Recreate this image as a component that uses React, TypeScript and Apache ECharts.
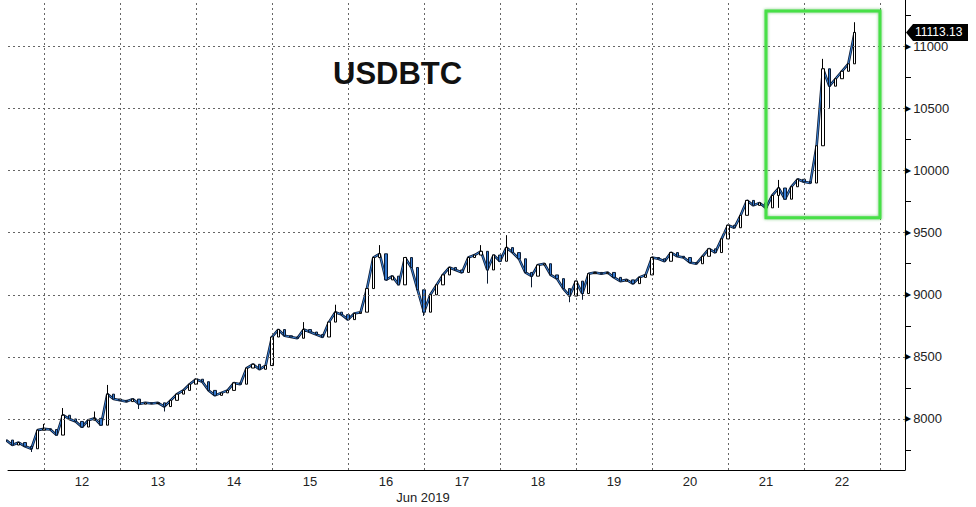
import React, { useEffect, useRef } from "react";
import * as echarts from "echarts";

// ---- data (hours counted from Jun 11 2019 00:00, 2-hour bars) ----
const START_HOUR = 12;
const BAR_HOURS = 2;
const firstOpen = 7960;
const closes = [
  // Jun 11 (from 12:00)
  7830, 7790, 7810, 7780, 7760, 7910,
  // Jun 12
  7920, 7915, 7870, 8030, 8000, 7980, 7935, 7990, 8005, 7950, 8200, 8160,
  // Jun 13
  8150, 8140, 8160, 8120, 8130, 8125, 8130, 8100, 8150, 8200, 8230, 8280,
  // Jun 14
  8320, 8300, 8230, 8190, 8210, 8230, 8290, 8280, 8410, 8440, 8400, 8430,
  // Jun 15
  8660, 8720, 8670, 8660, 8650, 8720, 8700, 8680, 8660, 8780, 8860, 8840,
  // Jun 16
  8800, 8850, 8860, 9050, 9300, 9330, 9120, 9150, 9080, 9300, 9220, 9040,
  // Jun 17
  8860, 9000, 9080, 9160, 9220, 9200, 9180, 9300, 9320, 9350, 9200, 9320,
  // Jun 18
  9270, 9380, 9340, 9290, 9180, 9150, 9240, 9250, 9160, 9130, 9050, 8990,
  // Jun 19
  9110, 9010, 9170, 9180, 9170, 9180, 9140, 9110, 9120, 9090, 9140, 9160,
  // Jun 20
  9300, 9290, 9270, 9340, 9310, 9300, 9260, 9250, 9310, 9370, 9340, 9450,
  // Jun 21
  9560, 9540, 9640, 9760, 9720, 9740, 9700, 9800, 9860, 9770, 9870, 9930,
  // Jun 22
  9910, 9900, 10200, 10820, 10680, 10740, 10800, 10860, 11113.13,
];
// wick extremes: [hour, price]
const wickHighs: [number, number][] = [
  [24, 7960], [30, 8088], [40, 8060], [44, 8274], [106, 8780], [116, 8920],
  [130, 9400], [162, 9400], [170, 9480], [256, 9925], [270, 10900], [280, 11195],
];
const wickLows: [number, number][] = [
  [20, 7734], [54, 8080], [62, 8060], [144, 8830], [164, 9090], [178, 9060],
  [190, 8940], [194, 8960], [256, 9700], [272, 10505],
];
const lastPrice = 11113.13;

const xLabelDays = [12, 13, 14, 15, 16, 17, 18, 19, 20, 21, 22];
const dayBoundaries = [12, 13, 14, 15, 16, 17, 18, 19, 20, 21, 22, 23];
const yLabels = [8000, 8500, 9000, 9500, 10000, 10500, 11000];
const yMinorTicks = [7750, 8250, 8750, 9250, 9750, 10250, 10750, 11250];

const X_MIN = 12.63;
const X_MAX = 295.9;
const Y_MIN = 7589;
const Y_MAX = 11374;

const highlightBox = { fromHour: 252, toHour: 288, low: 9620, high: 11285 };

const FONT = "Liberation Sans";

export default function App() {
  const ref = useRef<HTMLDivElement>(null);

  useEffect(() => {
    const chart = echarts.init(ref.current!, null, { renderer: "svg" });
    const hiMap = new Map(wickHighs);
    const loMap = new Map(wickLows);
    const candles = closes.map((c, i) => {
      const h = START_HOUR + i * BAR_HOURS;
      const o = i === 0 ? firstOpen : closes[i - 1];
      const hi = Math.max(o, c, hiMap.has(h) ? (hiMap.get(h) as number) : -Infinity);
      const lo = Math.min(o, c, loMap.has(h) ? (loMap.get(h) as number) : Infinity);
      return [h, o, c, lo, hi];
    });
    const linePts = candles.map((d) => [d[0], d[2]]);

    const option: any = {
      animation: false,
      textStyle: { fontFamily: FONT },
      grid: { left: 8, right: 71, top: 0, bottom: 37, containLabel: false },
      xAxis: {
        type: "value",
        min: X_MIN,
        max: X_MAX,
        axisLine: { show: true, onZero: false, lineStyle: { color: "#000", width: 1 } },
        axisTick: { show: false },
        splitLine: { show: false },
        axisLabel: {
          customValues: xLabelDays.map((d) => (d - 11) * 24 + 12),
          formatter: (v: number) => String(11 + Math.floor(v / 24)),
          color: "#222",
          fontFamily: FONT,
          fontSize: 13,
          margin: 5,
        },
      },
      yAxis: {
        type: "value",
        position: "right",
        min: Y_MIN,
        max: Y_MAX,
        axisLine: { show: true, lineStyle: { color: "#000", width: 1 } },
        axisTick: {
          show: true,
          customValues: yMinorTicks,
          length: 6,
          lineStyle: { color: "#000", width: 1 },
        },
        splitLine: { show: false },
        axisLabel: {
          customValues: yLabels,
          margin: 0,
          formatter: (v: number) => `{t|\u25B6}{v|${v}}`,
          rich: {
            t: { fontSize: 8, color: "#000", padding: [0, 2, 0, 0], fontFamily: "DejaVu Sans" },
            v: { fontSize: 13, color: "#222", fontFamily: FONT },
          },
        },
      },
      series: [
        {
          type: "line",
          data: [],
          silent: true,
          z: 1,
          markLine: {
            silent: true,
            symbol: "none",
            animation: false,
            label: { show: false },
            lineStyle: { type: [2, 3], color: "#666", width: 1 },
            data: [
              ...dayBoundaries.map((d) => ({ xAxis: (d - 11) * 24 })),
              ...yLabels.map((v) => ({ yAxis: v })),
            ],
          },
        },
        {
          type: "line",
          data: linePts,
          symbol: "none",
          z: 2,
          silent: true,
          lineStyle: { color: "#0f1e38", width: 2.6 },
        },
        {
          type: "line",
          data: linePts,
          symbol: "none",
          z: 3,
          silent: true,
          lineStyle: { color: "#3a82d6", width: 1 },
        },
        {
          type: "candlestick",
          data: candles,
          encode: { x: 0, y: [1, 2, 3, 4] },
          barWidth: 3,
          z: 4,
          itemStyle: {
            color: "#ffffff",
            color0: "#3479cf",
            borderColor: "#000000",
            borderColor0: "#0b1a30",
            borderWidth: 1,
          },
        },
      ],
    };
    chart.setOption(option);

    const [bx1, by1] = chart.convertToPixel({ gridIndex: 0 }, [highlightBox.fromHour, highlightBox.high]) as number[];
    const [bx2, by2] = chart.convertToPixel({ gridIndex: 0 }, [highlightBox.toHour, highlightBox.low]) as number[];
    const [axisX, py] = chart.convertToPixel({ gridIndex: 0 }, [X_MAX, lastPrice]) as number[];

    chart.setOption({
      graphic: [
        {
          type: "text",
          left: 333,
          top: 58,
          style: { text: "USDBTC", font: `bold 31px "${FONT}"`, fill: "#111" },
          z: 10,
        },
        {
          type: "text",
          x: 423,
          y: 497,
          style: { text: "Jun 2019", font: `13px "${FONT}"`, fill: "#222", align: "center", verticalAlign: "middle" },
          z: 10,
        },
        {
          type: "rect",
          shape: { x: bx1, y: by1, width: bx2 - bx1, height: by2 - by1 },
          style: {
            fill: "none",
            stroke: "#46e046",
            lineWidth: 3,
            shadowBlur: 3,
            shadowColor: "rgba(40,160,40,0.6)",
          },
          z: 10,
        },
        {
          type: "polygon",
          shape: {
            points: [
              [axisX + 1, py],
              [axisX + 8, py - 8.5],
              [968, py - 8.5],
              [968, py + 8.5],
              [axisX + 8, py + 8.5],
            ],
          },
          style: { fill: "#000" },
          z: 11,
        },
        {
          type: "text",
          x: 915,
          y: py,
          style: {
            text: lastPrice.toFixed(2),
            font: `12px "${FONT}"`,
            fill: "#fff",
            verticalAlign: "middle",
          },
          z: 12,
        },
      ],
    });

    return () => chart.dispose();
  }, []);

  return (
    <div
      ref={ref}
      style={{ position: "absolute", left: 0, top: 0, width: 976, height: 507, background: "#fff" }}
    />
  );
}
